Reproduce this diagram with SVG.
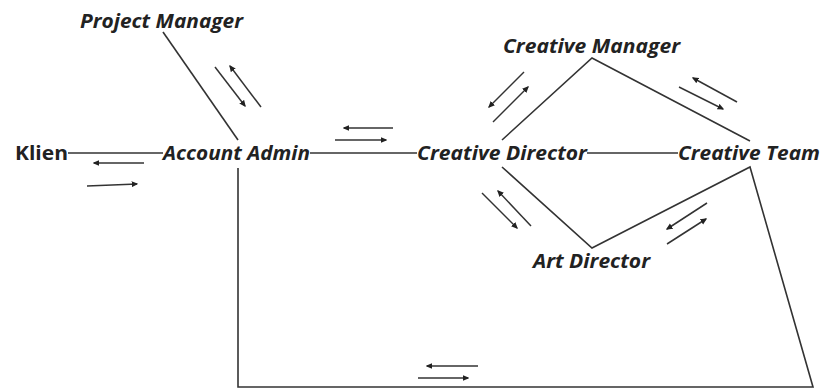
<svg xmlns="http://www.w3.org/2000/svg" width="825" height="389" viewBox="0 0 825 389">
  <defs>
    <marker id="head" viewBox="0 0 10 10" refX="8" refY="5" markerWidth="4.5" markerHeight="4.5" orient="auto" markerUnits="strokeWidth">
      <path d="M0,0.5 L10,5 L0,9.5 Z" fill="#222"/>
    </marker>
    <style>
      .lbl { font-family: "Open Sans", "Liberation Sans", sans-serif; font-size: 19px; font-weight: 700; font-style: italic; fill: #222; }
      .plain { font-style: normal; }
      .link { stroke: #333; stroke-width: 1.6; fill: none; }
      .flow { stroke: #333; stroke-width: 1.5; fill: none; marker-end: url(#head); }
    </style>
  </defs>
  <rect width="825" height="389" fill="#ffffff"/>

  <!-- connectors between roles -->
  <g id="connectors">
    <line class="link" x1="68" y1="153" x2="163" y2="153"/>
    <line class="link" x1="163" y1="32" x2="238" y2="140"/>
    <line class="link" x1="310" y1="153" x2="417" y2="153"/>
    <line class="link" x1="587" y1="153" x2="678" y2="153"/>
    <polyline class="link" points="502,140 592,58 750,141"/>
    <polyline class="link" points="502,167 592,248 750,167 813,387 238,387 238,168"/>

    <!-- paired direction arrows -->
    <line class="flow" x1="144" y1="163" x2="94" y2="163"/>
    <line class="flow" x1="87" y1="186" x2="137" y2="184"/>
    <line class="flow" x1="215" y1="67" x2="245" y2="106"/>
    <line class="flow" x1="261" y1="107" x2="230" y2="66"/>
    <line class="flow" x1="393" y1="128" x2="344" y2="128"/>
    <line class="flow" x1="335" y1="140" x2="386" y2="140"/>
    <line class="flow" x1="524" y1="72" x2="489" y2="107"/>
    <line class="flow" x1="493" y1="122" x2="528" y2="87"/>
    <line class="flow" x1="737" y1="102" x2="693" y2="78"/>
    <line class="flow" x1="679" y1="87" x2="723" y2="109"/>
    <line class="flow" x1="482" y1="193" x2="517" y2="228"/>
    <line class="flow" x1="531" y1="226" x2="498" y2="191"/>
    <line class="flow" x1="707" y1="203" x2="667" y2="229"/>
    <line class="flow" x1="667" y1="244" x2="706" y2="219"/>
    <line class="flow" x1="478" y1="366" x2="427" y2="366"/>
    <line class="flow" x1="418" y1="378" x2="468" y2="378"/>
  </g>

  <g id="klien"><text class="lbl plain" x="15" y="160" textLength="53" lengthAdjust="spacingAndGlyphs">Klien</text></g>
  <g id="project-manager"><text class="lbl" x="80" y="28" textLength="163" lengthAdjust="spacingAndGlyphs">Project Manager</text></g>
  <g id="account-admin"><text class="lbl" x="163" y="160" textLength="147" lengthAdjust="spacingAndGlyphs">Account Admin</text></g>
  <g id="creative-manager"><text class="lbl" x="503" y="53" textLength="177" lengthAdjust="spacingAndGlyphs">Creative Manager</text></g>
  <g id="creative-director"><text class="lbl" x="417" y="160" textLength="170" lengthAdjust="spacingAndGlyphs">Creative Director</text></g>
  <g id="creative-team"><text class="lbl" x="678" y="160" textLength="142" lengthAdjust="spacingAndGlyphs">Creative Team</text></g>
  <g id="art-director"><text class="lbl" x="533" y="268" textLength="117" lengthAdjust="spacingAndGlyphs">Art Director</text></g>
</svg>
